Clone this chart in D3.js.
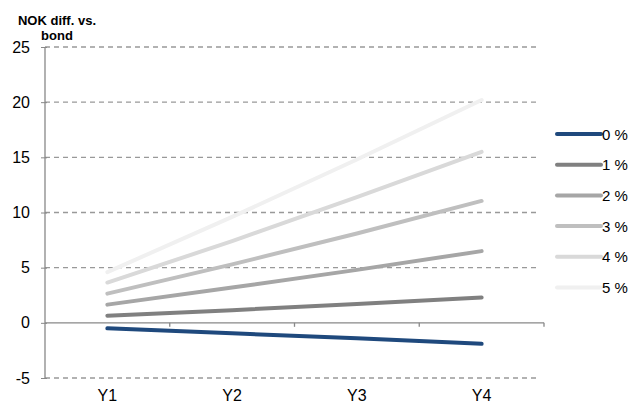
<!DOCTYPE html>
<html>
<head>
<meta charset="utf-8">
<script src="https://cdn.jsdelivr.net/npm/d3@7"></script>
<style>
  html, body { margin: 0; padding: 0; background: #fff; }
  svg { display: block; font-family: "Liberation Sans", Arial, sans-serif; }
</style>
</head>
<body>
<svg id="chart" width="633" height="405"></svg>
<script>
// Categories (years) and y ticks
const years = ["Y1", "Y2", "Y3", "Y4"];
const yTicks = [-5, 0, 5, 10, 15, 20, 25];

// Series: NOK difference vs. bond for different rates
const seriesNames = ["0 %", "1 %", "2 %", "3 %", "4 %", "5 %"];
const s0 = [-0.5, -0.95, -1.4, -1.9];
const s1 = [0.65, 1.15, 1.7, 2.3];
const s2 = [1.65, 3.2, 4.8, 6.5];
const s3 = [2.65, 5.3, 8.1, 11.05];
const s4 = [3.65, 7.4, 11.4, 15.5];
const s5 = [4.6, 9.6, 14.8, 20.2];
const seriesColors = ["#1f497d", "#808080", "#a6a6a6", "#bfbfbf", "#d9d9d9", "#f0f0f0"];

const series = [s0, s1, s2, s3, s4, s5].map((v, i) => ({ name: seriesNames[i], values: v, color: seriesColors[i] }));

const svg = d3.select("#chart");
const plotLeft = 45, plotRight = 544, plotTop = 47, plotBottom = 378;

const x = d3.scaleBand().domain(years).range([plotLeft, plotRight]);
const y = d3.scaleLinear().domain([-5, 25]).range([plotBottom, plotTop]);

// Dashed gridlines (all except zero line)
svg.append("g").selectAll("line")
  .data(yTicks.filter(d => d !== 0))
  .join("line")
  .attr("x1", plotLeft).attr("x2", plotRight - 4)
  .attr("y1", d => y(d)).attr("y2", d => y(d))
  .attr("stroke", "#999").attr("stroke-width", 1.3)
  .attr("stroke-dasharray", "5,4");

// Y axis
const yAxis = svg.append("g")
  .attr("transform", `translate(${plotLeft},0)`)
  .call(d3.axisLeft(y).tickValues(yTicks).tickSize(3).tickPadding(12).tickFormat(d => String(d)));
yAxis.select(".domain").attr("stroke", "#888").attr("stroke-width", 1.3).attr("d", `M0,${plotTop}V${plotBottom}`);
yAxis.selectAll(".tick line").attr("stroke", "#888").attr("x1", 2).attr("x2", -4);
yAxis.selectAll(".tick text").attr("font-size", 16).attr("fill", "#000").attr("font-family", "Liberation Sans, Arial, sans-serif");

// X axis along zero line
const xAxis = svg.append("g")
  .attr("transform", `translate(0,${y(0)})`)
  .call(d3.axisBottom(x).tickSize(0).tickFormat(""));
xAxis.select(".domain").attr("stroke", "#888").attr("stroke-width", 1.3).attr("d", `M${plotLeft},0H${plotRight}`);
xAxis.selectAll(".tick").remove();
// band boundary tick marks
svg.append("g").selectAll("line")
  .data(years.slice(1).map(d => x(d)).concat([plotRight]))
  .join("line")
  .attr("x1", d => d).attr("x2", d => d)
  .attr("y1", y(0)).attr("y2", y(0) + 4)
  .attr("stroke", "#888").attr("stroke-width", 1.3);

// Category labels at bottom
svg.append("g").selectAll("text")
  .data(years)
  .join("text")
  .attr("x", d => x(d) + x.bandwidth() / 2)
  .attr("y", 401)
  .attr("text-anchor", "middle")
  .attr("font-size", 16)
  .text(d => d);

// Lines
const line = d3.line()
  .x((d, i) => x(years[i]) + x.bandwidth() / 2)
  .y(d => y(d));

svg.append("g").selectAll("path")
  .data(series.slice().reverse())
  .join("path")
  .attr("d", d => line(d.values))
  .attr("fill", "none")
  .attr("stroke", d => d.color)
  .attr("stroke-width", 4)
  .attr("stroke-linecap", "round")
  .attr("stroke-linejoin", "round");

// Legend
const legend = svg.append("g").selectAll("g")
  .data(series)
  .join("g")
  .attr("transform", (d, i) => `translate(557,${134 + i * 30.7})`);
legend.append("line")
  .attr("x1", 0).attr("x2", 44)
  .attr("stroke", d => d.color).attr("stroke-width", 4).attr("stroke-linecap", "round");
legend.append("text")
  .attr("x", 45).attr("y", 5.5)
  .attr("font-size", 15)
  .text(d => d.name);

// Axis title
const title = svg.append("text")
  .attr("text-anchor", "middle")
  .attr("font-size", 13)
  .attr("font-weight", "bold");
title.append("tspan").attr("x", 57).attr("y", 25).text("NOK diff. vs.");
title.append("tspan").attr("x", 57).attr("y", 40).text("bond");
</script>
</body>
</html>
